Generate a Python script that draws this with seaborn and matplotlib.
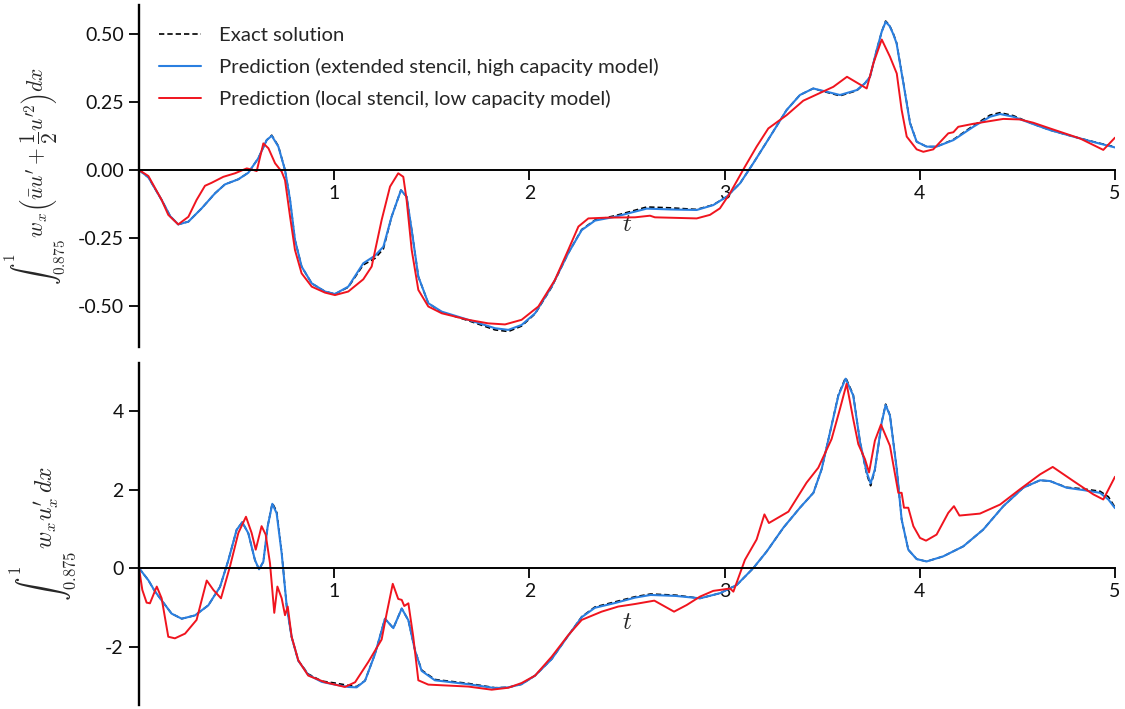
import matplotlib
matplotlib.use("Agg")
import matplotlib.pyplot as plt
import seaborn as sns

# ---------------- upper panel: energy-type integral ----------------
t_top_exact = [0, 0.048, 0.116, 0.160, 0.201, 0.253, 0.321, 0.389, 0.440, 0.509, 0.560, 0.611,
               0.654, 0.680, 0.714, 0.748, 0.774, 0.799, 0.833, 0.885, 0.953, 1.004, 1.072,
               1.149, 1.209, 1.252, 1.294, 1.342, 1.371, 1.397, 1.431, 1.482, 1.551, 1.687,
               1.824, 1.892, 1.960, 2.029, 2.114, 2.199, 2.268, 2.336, 2.439, 2.541, 2.601,
               2.720, 2.857, 2.942, 3.011, 3.079, 3.147, 3.233, 3.318, 3.386, 3.454, 3.523,
               3.591, 3.677, 3.719, 3.745, 3.779, 3.805, 3.825, 3.845, 3.864, 3.881, 3.916,
               3.950, 3.984, 4.035, 4.086, 4.172, 4.274, 4.360, 4.411, 4.479, 4.581, 4.667,
               4.786, 4.906, 5.0]
y_top_exact = [0, -0.027, -0.110, -0.170, -0.200, -0.190, -0.141, -0.086, -0.053, -0.034, -0.010,
               0.043, 0.110, 0.128, 0.088, 0.0, -0.110, -0.257, -0.355, -0.417, -0.447, -0.456,
               -0.431, -0.349, -0.325, -0.290, -0.172, -0.074, -0.098, -0.221, -0.392, -0.490,
               -0.523, -0.554, -0.588, -0.594, -0.574, -0.529, -0.431, -0.306, -0.219, -0.184,
               -0.168, -0.148, -0.136, -0.139, -0.145, -0.128, -0.098, -0.049, 0.025, 0.123,
               0.221, 0.276, 0.300, 0.286, 0.273, 0.292, 0.319, 0.343, 0.441, 0.509, 0.548,
               0.532, 0.502, 0.468, 0.321, 0.174, 0.104, 0.086, 0.086, 0.112, 0.163, 0.202,
               0.211, 0.200, 0.169, 0.147, 0.123, 0.101, 0.085]

t_top_hi = t_top_exact
y_top_hi = [0, -0.027, -0.110, -0.170, -0.200, -0.190, -0.141, -0.086, -0.053, -0.034, -0.010,
            0.043, 0.110, 0.126, 0.086, 0.0, -0.110, -0.257, -0.355, -0.417, -0.447, -0.456,
            -0.429, -0.343, -0.315, -0.282, -0.172, -0.074, -0.098, -0.221, -0.392, -0.490,
            -0.521, -0.551, -0.582, -0.588, -0.570, -0.527, -0.429, -0.306, -0.221, -0.186,
            -0.172, -0.153, -0.142, -0.145, -0.147, -0.129, -0.098, -0.049, 0.025, 0.123,
            0.221, 0.276, 0.300, 0.288, 0.276, 0.294, 0.319, 0.343, 0.441, 0.509, 0.545,
            0.530, 0.500, 0.466, 0.319, 0.172, 0.104, 0.086, 0.086, 0.110, 0.159, 0.196,
            0.206, 0.196, 0.169, 0.147, 0.123, 0.100, 0.083]

t_top_lo = [0, 0.048, 0.116, 0.150, 0.201, 0.253, 0.295, 0.338, 0.372, 0.432, 0.492, 0.552,
            0.586, 0.603, 0.637, 0.663, 0.697, 0.731, 0.748, 0.774, 0.799, 0.833, 0.885, 0.953,
            1.004, 1.072, 1.149, 1.192, 1.243, 1.286, 1.328, 1.354, 1.371, 1.397, 1.431, 1.482,
            1.551, 1.687, 1.789, 1.875, 1.960, 2.046, 2.131, 2.199, 2.251, 2.302, 2.404, 2.541,
            2.618, 2.643, 2.857, 2.925, 2.976, 3.027, 3.104, 3.164, 3.224, 3.318, 3.403, 3.557,
            3.627, 3.728, 3.762, 3.805, 3.847, 3.882, 3.907, 3.933, 3.984, 4.018, 4.069, 4.146,
            4.172, 4.197, 4.274, 4.428, 4.513, 4.581, 4.667, 4.821, 4.940, 5.0]
y_top_lo = [0, -0.022, -0.110, -0.165, -0.200, -0.172, -0.110, -0.058, -0.047, -0.025, -0.012,
            0.006, 0.0, -0.004, 0.098, 0.080, 0.025, -0.006, -0.037, -0.172, -0.294, -0.380,
            -0.429, -0.451, -0.460, -0.447, -0.402, -0.355, -0.184, -0.061, -0.012, -0.025,
            -0.110, -0.294, -0.441, -0.502, -0.527, -0.551, -0.564, -0.568, -0.551, -0.502,
            -0.404, -0.294, -0.208, -0.178, -0.175, -0.174, -0.168, -0.174, -0.178, -0.165,
            -0.141, -0.086, 0.012, 0.086, 0.153, 0.202, 0.255, 0.306, 0.343, 0.300, 0.392,
            0.480, 0.417, 0.355, 0.221, 0.123, 0.076, 0.067, 0.076, 0.135, 0.139, 0.159,
            0.170, 0.188, 0.186, 0.174, 0.153, 0.116, 0.074, 0.119]

# ---------------- lower panel: gradient-type integral ----------------
t_bot_exact = [0, 0.048, 0.080, 0.116, 0.167, 0.219, 0.287, 0.355, 0.415, 0.458, 0.500, 0.529,
               0.560, 0.594, 0.615, 0.637, 0.659, 0.683, 0.705, 0.731, 0.757, 0.782, 0.816,
               0.867, 0.936, 1.004, 1.072, 1.115, 1.158, 1.209, 1.260, 1.303, 1.346, 1.380,
               1.414, 1.448, 1.516, 1.687, 1.824, 1.892, 1.960, 2.029, 2.114, 2.199, 2.268,
               2.336, 2.439, 2.541, 2.621, 2.750, 2.874, 2.976, 3.062, 3.147, 3.216, 3.301,
               3.386, 3.455, 3.497, 3.540, 3.583, 3.620, 3.659, 3.694, 3.728, 3.748, 3.770,
               3.805, 3.825, 3.847, 3.882, 3.907, 3.941, 3.984, 4.035, 4.120, 4.223, 4.325,
               4.428, 4.530, 4.616, 4.667, 4.752, 4.838, 4.923, 4.966, 5.0]
y_bot_exact = [0, -0.308, -0.58, -0.821, -1.16, -1.29, -1.205, -0.949, -0.479, 0.205, 0.974,
               1.17, 0.889, 0.205, -0.03, 0.162, 1.06, 1.66, 1.45, 0.40, -0.99, -1.76, -2.36,
               -2.70, -2.88, -2.93, -2.99, -3.02, -2.87, -2.19, -1.29, -1.53, -1.03, -1.33,
               -2.10, -2.60, -2.84, -2.94, -3.05, -3.04, -2.96, -2.74, -2.32, -1.72, -1.24,
               -0.99, -0.86, -0.73, -0.66, -0.69, -0.77, -0.64, -0.43, 0.0, 0.427, 1.03, 1.54,
               1.92, 2.52, 3.46, 4.42, 4.86, 4.42, 3.21, 2.40, 2.10, 2.50, 3.72, 4.18, 3.90,
               2.52, 1.24, 0.47, 0.23, 0.17, 0.30, 0.556, 0.983, 1.58, 2.05, 2.24, 2.22, 2.06,
               2.02, 1.96, 1.82, 1.55]

t_bot_hi = t_bot_exact
y_bot_hi = [0, -0.308, -0.58, -0.821, -1.16, -1.29, -1.205, -0.949, -0.479, 0.205, 0.974, 1.17,
            0.889, 0.205, -0.03, 0.162, 1.06, 1.64, 1.40, 0.376, -0.99, -1.76, -2.36, -2.72,
            -2.90, -2.97, -3.03, -3.04, -2.87, -2.19, -1.29, -1.53, -1.03, -1.33, -2.10, -2.62,
            -2.86, -2.96, -3.06, -3.04, -2.96, -2.74, -2.32, -1.72, -1.25, -1.01, -0.889,
            -0.752, -0.684, -0.709, -0.77, -0.64, -0.43, 0.0, 0.427, 1.03, 1.54, 1.92, 2.52,
            3.46, 4.40, 4.83, 4.40, 3.21, 2.44, 2.16, 2.52, 3.72, 4.16, 3.89, 2.52, 1.24, 0.47,
            0.23, 0.17, 0.30, 0.556, 0.983, 1.58, 2.05, 2.24, 2.22, 2.05, 1.99, 1.92, 1.75,
            1.53]

t_bot_lo = [0, 0.017, 0.039, 0.056, 0.091, 0.116, 0.150, 0.184, 0.236, 0.295, 0.347, 0.381,
            0.420, 0.466, 0.509, 0.548, 0.577, 0.598, 0.628, 0.649, 0.671, 0.693, 0.709, 0.731,
            0.748, 0.762, 0.782, 0.816, 0.867, 0.953, 1.055, 1.107, 1.175, 1.243, 1.269, 1.300,
            1.328, 1.346, 1.359, 1.380, 1.405, 1.431, 1.482, 1.687, 1.807, 1.892, 1.960, 2.029,
            2.114, 2.199, 2.268, 2.370, 2.455, 2.541, 2.640, 2.741, 2.806, 2.874, 2.942, 3.028,
            3.045, 3.104, 3.164, 3.204, 3.227, 3.327, 3.420, 3.480, 3.548, 3.591, 3.625, 3.659,
            3.685, 3.719, 3.740, 3.770, 3.801, 3.847, 3.890, 3.907, 3.919, 3.941, 3.967, 4.001,
            4.032, 4.086, 4.146, 4.175, 4.203, 4.308, 4.411, 4.513, 4.616, 4.681, 4.787, 4.889,
            4.940, 5.0]
y_bot_lo = [0, -0.556, -0.88, -0.897, -0.47, -0.77, -1.75, -1.79, -1.67, -1.32, -0.316, -0.556,
            -0.77, 0.04, 0.897, 1.31, 0.897, 0.47, 1.07, 0.855, 0.128, -1.14, -0.47, -0.77, -1.20,
            -0.98, -1.75, -2.35, -2.74, -2.91, -3.03, -2.91, -2.39, -1.82, -1.15, -0.40, -0.786,
            -0.81, -0.966, -0.897, -1.75, -2.86, -2.97, -3.02, -3.10, -3.05, -2.93, -2.74, -2.26,
            -1.71, -1.32, -1.11, -0.98, -0.915, -0.829, -1.11, -0.94, -0.726, -0.58, -0.52, -0.60,
            0.21, 0.73, 1.37, 1.15, 1.44, 2.18, 2.56, 3.29, 4.06, 4.70, 3.80, 3.16, 2.78, 2.44,
            3.25, 3.66, 3.12, 1.92, 1.92, 1.54, 1.54, 1.07, 0.77, 0.70, 0.855, 1.41, 1.58, 1.34,
            1.39, 1.62, 2.01, 2.39, 2.58, 2.22, 1.88, 1.75, 2.33]

top_ticks = [-0.50, -0.25, 0.00, 0.25, 0.50]
bot_ticks = [-2, 0, 2, 4]
x_ticks = [1, 2, 3, 4, 5]

labels = ["Exact solution",
          "Prediction (extended stencil, high capacity model)",
          "Prediction (local stencil, low capacity model)"]

C_EXACT = "black"
C_HI = "#2a7fe0"
C_LO = "#f0141e"

sns.set_theme(style="white")
plt.rcParams["font.family"] = ["Lato", "DejaVu Sans"]
plt.rcParams["mathtext.fontset"] = "cm"
plt.rcParams["axes.unicode_minus"] = False

W, H = 1125, 709
fig = plt.figure(figsize=(W / 100, H / 100), dpi=100)
ax_top = fig.add_axes([139 / W, 1 - 347 / H, (1115 - 139) / W, 342 / H])
ax_bot = fig.add_axes([139 / W, 1 - 705 / H, (1115 - 139) / W, 342 / H])


def draw(ax, t_ex, y_ex, t_hi, y_hi, t_lo, y_lo, with_labels):
    lab = labels if with_labels else [None, None, None]
    sns.lineplot(x=t_ex, y=y_ex, ax=ax, color=C_EXACT, lw=1.2,
                 linestyle=(0, (3.2, 1.8)), label=lab[0], legend=with_labels)
    sns.lineplot(x=t_hi, y=y_hi, ax=ax, color=C_HI, lw=1.5,
                 label=lab[1], legend=with_labels)
    sns.lineplot(x=t_lo, y=y_lo, ax=ax, color=C_LO, lw=1.4,
                 label=lab[2], legend=with_labels)


def style(ax, ylim, yticks, fmt, ylabel, label_x, label_size):
    ax.set_xlim(0, 5)
    ax.set_ylim(*ylim)
    for s in ("top", "right"):
        ax.spines[s].set_visible(False)
    ax.spines["bottom"].set_position(("data", 0))
    ax.spines["left"].set_linewidth(1.7)
    ax.spines["bottom"].set_linewidth(1.4)
    for s in ("left", "bottom"):
        ax.spines[s].set_color("black")
    ax.set_xticks(x_ticks)
    ax.set_xticklabels([str(v) for v in x_ticks])
    ax.set_yticks(yticks)
    ax.set_yticklabels([fmt.format(v) for v in yticks])
    ax.tick_params(axis="both", which="major", bottom=True, left=True,
                   direction="out", length=7, width=1.3, color="black",
                   labelsize=14, labelcolor="#111111", pad=4)
    ax.set_xlabel(r"$t$", fontsize=18, labelpad=7)
    ax.set_ylabel(ylabel, fontsize=label_size)
    ax.yaxis.set_label_coords(label_x, 0.5)
    ax.grid(False)
    ax.set_facecolor("white")


draw(ax_top, t_top_exact, y_top_exact, t_top_hi, y_top_hi, t_top_lo, y_top_lo, True)
draw(ax_bot, t_bot_exact, y_bot_exact, t_bot_hi, y_bot_hi, t_bot_lo, y_bot_lo, False)

style(ax_top, (-0.651, 0.607), top_ticks, "{:.2f}",
      r"$\int_{0.875}^{1}\, w_x \left(\bar{u}u^{\prime} + \dfrac{1}{2}u^{\prime 2}\right) dx$",
      -0.073, 15.5)
style(ax_bot, (-3.49, 5.23), bot_ticks, "{:d}",
      r"$\int_{0.875}^{1}\, w_x u^{\prime}_x\, dx$",
      -0.062, 17)

ax_top.legend(loc="upper left", bbox_to_anchor=(0.012, 0.960), frameon=False,
              fontsize=14.6, handlelength=2.1, handletextpad=0.85, labelspacing=0.68,
              borderaxespad=0.0)

fig.savefig("out.png", dpi=100, facecolor="white")
